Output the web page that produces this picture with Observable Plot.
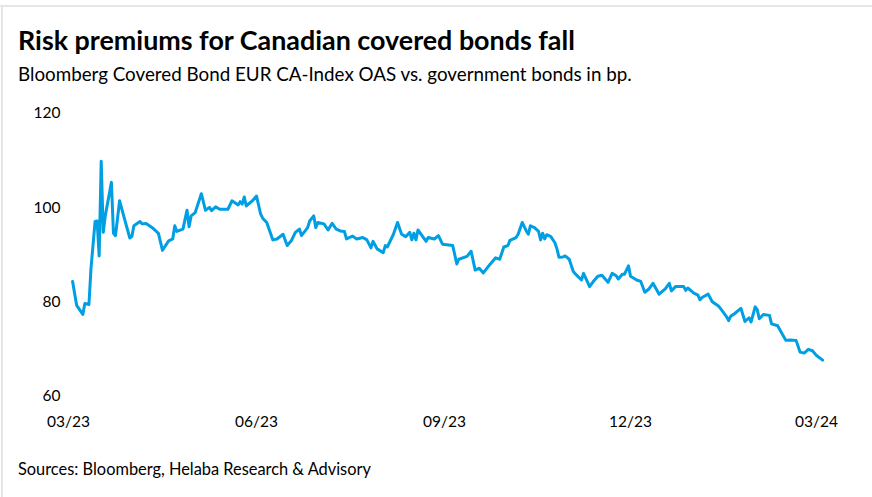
<!DOCTYPE html>
<html>
<head>
<meta charset="utf-8">
<script src="https://cdn.jsdelivr.net/npm/d3@7"></script>
<script src="https://cdn.jsdelivr.net/npm/@observablehq/plot@0.6"></script>
<style>
html,body{margin:0;padding:0;background:#fff;}
#root{position:relative;width:872px;height:497px;overflow:hidden;font-family:Lato,sans-serif;color:#000;}
.frame-top{position:absolute;left:0;top:5px;width:872px;height:2px;background:#e6e6e6;}
.frame-left{position:absolute;left:1px;top:5px;width:2px;height:492px;background:#e6e6e6;}
.txt{position:absolute;left:18px;white-space:nowrap;line-height:1;}
#chart{position:absolute;left:0;top:100px;}
</style>
</head>
<body>
<div id="root">
  <div class="frame-top"></div>
  <div class="frame-left"></div>
  <div id="title" class="txt" style="font-weight:700;color:#000;"></div>
  <div id="subtitle" class="txt" style="color:#000;"></div>
  <div id="caption" class="txt" style="color:#000;"></div>
  <div id="chart"></div>
</div>
<script>
const titleText = "Risk premiums for Canadian covered bonds fall";
const subtitleText = "Bloomberg Covered Bond EUR CA-Index OAS vs. government bonds in bp.";
const captionText = "Sources: Bloomberg, Helaba Research & Advisory";

const xTicks = ["2023-03-01","2023-06-01","2023-09-01","2023-12-01","2024-03-01"];
const xTickLabels = ["03/23","06/23","09/23","12/23","03/24"];
const yTicks = [60,80,100,120];

const dates = [
"2023-03-03","2023-03-05","2023-03-08","2023-03-09","2023-03-11","2023-03-12","2023-03-14","2023-03-15","2023-03-16","2023-03-17",
"2023-03-18","2023-03-19","2023-03-22","2023-03-23","2023-03-24","2023-03-26","2023-03-28","2023-03-31","2023-04-01","2023-04-02",
"2023-04-05","2023-04-06","2023-04-08","2023-04-11","2023-04-14","2023-04-16","2023-04-19","2023-04-21","2023-04-22","2023-04-23",
"2023-04-26","2023-04-28","2023-04-29","2023-04-30","2023-05-02","2023-05-05","2023-05-07","2023-05-09","2023-05-10","2023-05-12",
"2023-05-14","2023-05-18","2023-05-20","2023-05-23","2023-05-24","2023-05-25","2023-05-26","2023-05-27","2023-05-30","2023-06-01",
"2023-06-03","2023-06-04","2023-06-06","2023-06-09","2023-06-11","2023-06-14","2023-06-16","2023-06-18","2023-06-20","2023-06-22",
"2023-06-23","2023-06-26","2023-06-27","2023-06-29","2023-06-30","2023-07-01","2023-07-04","2023-07-06","2023-07-08","2023-07-10",
"2023-07-12","2023-07-14","2023-07-15","2023-07-18","2023-07-20","2023-07-23","2023-07-25","2023-07-27","2023-07-28","2023-07-30",
"2023-08-02","2023-08-03","2023-08-04","2023-08-07","2023-08-09","2023-08-11","2023-08-13","2023-08-15","2023-08-16","2023-08-17",
"2023-08-18","2023-08-19","2023-08-23","2023-08-24","2023-08-27","2023-08-29","2023-08-31","2023-09-05","2023-09-07","2023-09-08",
"2023-09-12","2023-09-14","2023-09-16","2023-09-18","2023-09-20","2023-09-23","2023-09-26","2023-09-28","2023-09-30","2023-10-02",
"2023-10-03","2023-10-06","2023-10-07","2023-10-09","2023-10-11","2023-10-12","2023-10-13","2023-10-15","2023-10-17","2023-10-18",
"2023-10-19","2023-10-20","2023-10-21","2023-10-23","2023-10-25","2023-10-26","2023-10-27","2023-10-29","2023-10-30","2023-11-01",
"2023-11-03","2023-11-04","2023-11-07","2023-11-08","2023-11-11","2023-11-13","2023-11-15","2023-11-17","2023-11-20","2023-11-22",
"2023-11-24","2023-11-25","2023-11-27","2023-11-28","2023-11-30","2023-12-01","2023-12-04","2023-12-06","2023-12-08","2023-12-10",
"2023-12-12","2023-12-15","2023-12-18","2023-12-20","2023-12-21","2023-12-23","2023-12-27","2023-12-28","2023-12-29","2024-01-01",
"2024-01-03","2024-01-04","2024-01-05","2024-01-08","2024-01-10","2024-01-13","2024-01-15","2024-01-17","2024-01-18","2024-01-19",
"2024-01-21","2024-01-24","2024-01-26","2024-01-28","2024-01-29","2024-01-31","2024-02-01","2024-02-02","2024-02-04","2024-02-07",
"2024-02-08","2024-02-11","2024-02-12","2024-02-15","2024-02-17","2024-02-20","2024-02-22","2024-02-24","2024-02-26","2024-02-28",
"2024-03-01","2024-03-04"
];
const values = [
84.4,79.3,77.4,79.7,79.5,87.1,97.1,97.2,89.8,109.9,
94.8,98.3,105.4,94.6,94.1,101.5,98.3,93.6,93.9,96.2,
97.1,96.6,96.7,95.8,94.6,91.0,93.0,93.4,96.2,95.0,
95.5,99.5,96.0,98.3,99.0,103.0,99.5,100.1,99.4,100.2,
99.7,99.7,101.5,100.6,101.3,100.8,102.3,100.4,101.5,102.5,
98.7,97.8,96.9,93.2,93.4,94.4,92.0,93.0,94.8,95.5,
94.1,95.8,97.2,98.3,95.8,96.9,96.6,95.3,96.7,95.5,
95.1,95.0,93.4,94.0,93.4,93.7,93.2,91.5,92.9,91.3,
90.5,92.0,91.7,94.4,96.9,94.4,93.9,94.8,93.2,94.6,
93.2,95.3,92.9,93.7,93.4,94.1,92.3,92.0,88.1,89.1,
89.7,90.8,86.8,87.2,86.2,87.9,89.4,89.1,91.7,92.0,
93.1,93.7,94.4,96.9,95.1,94.4,96.2,95.8,95.0,93.2,
94.6,93.4,94.3,93.9,92.6,91.3,89.5,89.6,89.8,89.1,
86.5,86.0,84.7,86.1,83.3,84.5,85.5,85.7,84.2,86.1,
85.6,84.9,85.9,85.9,87.7,85.5,84.7,84.4,82.1,82.8,
84.0,81.7,82.8,84.0,82.4,83.3,83.3,82.5,83.0,81.9,
81.5,80.5,81.0,81.7,80.1,79.2,78.1,76.9,76.1,77.0,
77.6,78.7,75.9,76.7,75.8,79.0,78.4,76.5,77.4,77.2,
75.4,75.0,74.2,71.9,72.0,71.9,69.4,69.2,70.0,69.7,
68.7,67.7
];

const data = dates.map((d, i) => ({date: new Date(d + "T00:00:00Z"), value: values[i]}));

function place(id, text, targetWidth, baseline, f0) {
  const el = document.getElementById(id);
  el.textContent = text;
  el.style.fontSize = f0 + "px";
  const w = el.getBoundingClientRect().width;
  const f = f0 * targetWidth / w;
  el.style.fontSize = f + "px";
  el.style.top = (baseline - 0.887 * f) + "px";
}
place("title", titleText, 557, 51, 24);
place("subtitle", subtitleText, 614, 82, 16);
place("caption", captionText, 353, 476, 14);

const chart = Plot.plot({
  width: 872,
  height: 340,
  marginLeft: 68,
  marginRight: 56,
  marginTop: 13,
  marginBottom: 44,
  style: {fontFamily: "Lato, sans-serif", fontSize: "15.5px", color: "#000", background: "transparent", overflow: "visible"},
  x: {
    type: "utc",
    domain: [new Date(xTicks[0] + "T00:00:00Z"), new Date(xTicks[xTicks.length - 1] + "T00:00:00Z")],
    ticks: xTicks.map(d => new Date(d + "T00:00:00Z")),
    tickFormat: (d, i) => xTickLabels[i],
    tickSize: 0,
    tickPadding: 19,
    label: null
  },
  y: {
    domain: [60, 120],
    ticks: yTicks,
    tickSize: 0,
    tickPadding: 8,
    label: null
  },
  marks: [
    Plot.lineY(data, {x: "date", y: "value", stroke: "#009fe3", strokeWidth: 3, strokeLinejoin: "round"})
  ]
});
document.getElementById("chart").appendChild(chart);
</script>
</body>
</html>
